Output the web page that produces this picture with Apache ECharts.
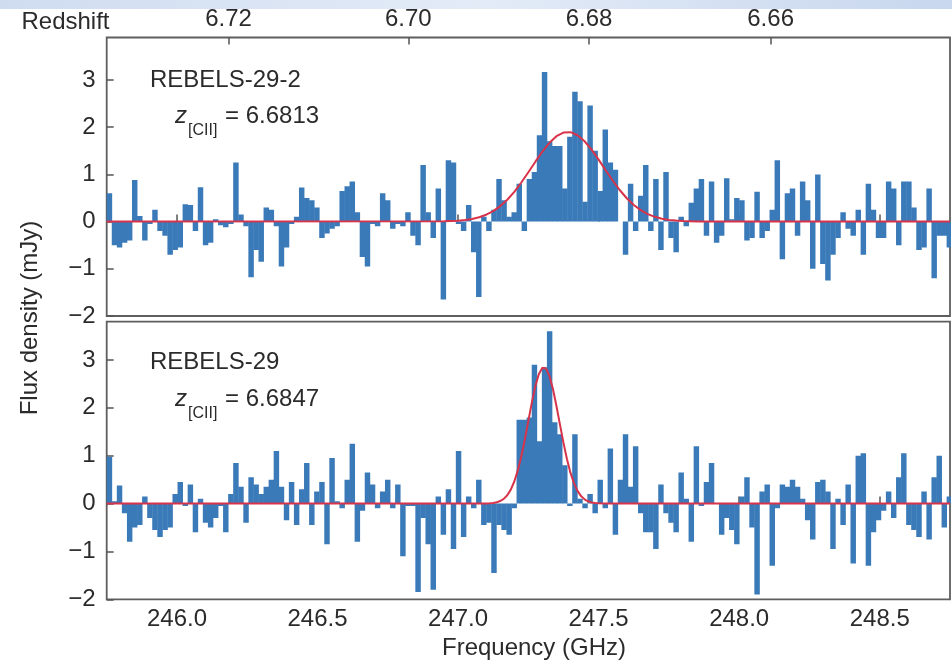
<!DOCTYPE html>
<html>
<head>
<meta charset="utf-8">
<script src="https://cdn.jsdelivr.net/npm/echarts@6/dist/echarts.min.js"></script>
<style>
  html, body { margin: 0; padding: 0; background: #ffffff; }
  #chart { width: 952px; height: 667px; }
</style>
</head>
<body>
<div id="chart"></div>
<script>
// ---------------- data ----------------
const freqMin = 245.75;
const freqMax = 248.75;
const chanStart = 245.759;   // centre of first channel (GHz)
const chanWidth = 0.018;     // channel width (GHz)
const restFreqCII = 1900.537; // [CII] rest frequency (GHz)

const freqTicks = [246.0, 246.5, 247.0, 247.5, 248.0, 248.5];
const fluxTicks = [-2, -1, 0, 1, 2, 3];
const redshiftTicks = [6.72, 6.70, 6.68, 6.66];

// REBELS-29-2 spectrum (mJy), one value per channel
const flux29_2 = [
  0.6, -0.5, -0.55, -0.45, -0.4, 0.88, 0.12, -0.4, -0.05, 0.25,
  -0.2, -0.3, -0.7, -0.6, -0.55, 0.37, 0.35, -0.2, 0.73, -0.5,
  -0.45, 0.05, -0.08, -0.12, -0.05, 1.25, 0.15, -0.1, -1.18, -0.6,
  -0.85, 0.3, 0.25, -0.1, -0.95, -0.55, -0.05, 0.1, 0.72, 0.5,
  0.45, 0.3, -0.35, -0.25, -0.15, -0.1, 0.65, 0.75, 0.85, 0.2,
  -0.75, -0.95, -0.05, -0.1, 0.6, 0.45, -0.15, -0.05, -0.1, 0.2,
  -0.3, -0.5, 1.2, 0.2, -0.35, 0.7, -1.65, 1.3, 1.25, -0.05,
  -0.2, 0.35, -0.65, -1.6, 0.1, -0.2, 0.25, 0.9, 0.45, 0.1,
  0.2, 0.8, -0.2, 0.9, 1.05, 1.83, 3.17, 1.7, 1.6, 1.6,
  0.7, 1.8, 2.75, 2.55, 0.42, 2.46, 1.5, 0.65, 1.95, 1.25,
  1.1, 0.0, -0.7, 0.8, -0.2, 0.55, 1.2, -0.2, 0.9, -0.6,
  1.05, -0.35, -0.65, 0.1, -0.1, 0.4, 0.7, 0.9, -0.3, 0.85,
  -0.45, -0.3, 0.92, 0.05, 0.5, 0.45, -0.4, -0.35, 0.63, -0.35,
  -0.2, 0.25, 1.3, -0.8, 0.6, 0.7, -0.3, 0.85, 0.45, -1.0,
  1.0, -0.9, -1.25, -0.7, -0.35, 0.2, -0.15, -0.3, 0.25, -0.7,
  0.8, 0.25, -0.35, -0.35, 0.85, 0.7, -0.5, 0.85, 0.85, 0.3,
  -0.6, -0.55, 0.7, -1.2, -0.3, -0.3, -0.55
];

// REBELS-29 spectrum (mJy)
const flux29 = [
  0.98, 0.05, 0.38, -0.2, -0.8, -0.5, -0.45, 0.15, -0.3, -0.55,
  -0.7, -0.55, -0.5, 0.2, 0.45, -0.05, 0.4, -0.6, 0.1, -0.4,
  -0.5, -0.3, -0.05, -0.6, 0.2, 0.85, 0.35, -0.4, 0.55, 0.4,
  0.2, 0.35, 0.5, 1.1, 0.35, -0.35, 0.45, -0.45, 0.3, 0.85,
  -0.45, 0.25, 0.45, -0.85, 0.95, 0.05, -0.1, 0.5, 1.25, -0.8,
  -0.15, 0.65, 0.4, -0.1, 0.25, 0.5, -0.1, 0.4, -1.1, -0.05,
  -0.05, -1.85, -0.3, -0.85, -1.8, 0.15, -0.65, 0.3, -0.95, 1.1,
  -0.7, 0.15, -0.1, 0.5, -0.45, -0.4, -1.45, -0.45, -0.55, -0.65,
  -0.1, 1.75, 1.75, 1.8, 2.9, 1.3, 2.85, 3.6, 1.7, 1.45,
  0.8, -0.05, 1.45, 0.1, -0.1, 0.2, -0.2, 0.5, -0.1, 1.15,
  -0.65, 0.5, 1.45, 0.35, 1.2, -0.2, -0.6, -0.6, -0.95, 0.4,
  -0.2, -0.4, -0.6, 0.65, 0.1, -0.8, 1.2, -0.05, 0.45, 0.85,
  0.0, -0.65, -0.3, -0.55, -0.85, 0.15, 0.55, -0.5, -1.9, 0.25,
  0.4, -1.3, -0.1, 0.4, 0.35, 0.5, 0.35, 0.1, -0.35, -0.75,
  0.45, 0.5, 0.25, -0.95, 0.1, -0.45, 0.4, -1.25, 1.0, 1.05,
  -1.3, -0.6, -0.35, -0.15, 0.25, -0.3, 0.55, 1.05, -0.45, -0.55,
  -0.7, 0.25, -0.75, 0.55, 1.0, -0.5, 0.15
];

// Fitted line profiles
const fitFreq29_2 = [245.75, 246.95, 247.0, 247.025, 247.05, 247.075, 247.1, 247.125, 247.15, 247.175,
  247.2, 247.225, 247.25, 247.275, 247.3, 247.325, 247.35, 247.375, 247.4, 247.425,
  247.45, 247.475, 247.5, 247.525, 247.55, 247.575, 247.6, 247.625, 247.65, 247.675,
  247.7, 247.725, 247.75, 247.775, 247.8, 247.85, 248.75];
const fitFlux29_2 = [0, 0.005, 0.018, 0.033, 0.056, 0.092, 0.146, 0.223, 0.328, 0.463,
  0.631, 0.828, 1.045, 1.269, 1.484, 1.67, 1.809, 1.887, 1.894, 1.83,
  1.702, 1.524, 1.313, 1.089, 0.87, 0.669, 0.495, 0.352, 0.242, 0.159,
  0.101, 0.062, 0.036, 0.021, 0.011, 0.003, 0];

const fitFreq29 = [245.75, 247.075, 247.1, 247.1125, 247.125, 247.1375, 247.15, 247.1625, 247.175, 247.1875,
  247.2, 247.2125, 247.225, 247.2375, 247.25, 247.2625, 247.275, 247.2875, 247.3, 247.3125,
  247.325, 247.3375, 247.35, 247.3625, 247.375, 247.3875, 247.4, 247.4125, 247.425, 247.4375,
  247.45, 247.4625, 247.475, 247.4875, 247.5, 247.525, 248.75];
const fitFlux29 = [0, 0, 0.003, 0.006, 0.013, 0.028, 0.054, 0.099, 0.175, 0.291,
  0.461, 0.693, 0.99, 1.342, 1.729, 2.114, 2.456, 2.709, 2.838, 2.824,
  2.668, 2.393, 2.039, 1.65, 1.268, 0.925, 0.641, 0.422, 0.264, 0.157,
  0.088, 0.047, 0.024, 0.012, 0.005, 0, 0];

// ---------------- chart ----------------
const barColor = '#3a7ab8';
const fitColor = '#d7334a';
const textColor = '#2b2b2b';
const frameColor = '#5e5e5e';
const FONT = 'Liberation Sans, Arial, Helvetica, sans-serif';

const toPairs = (xs, ys) => xs.map((x, i) => [x, ys[i]]);
const chanPairs = (vals) => vals.map((v, i) => [chanStart + i * chanWidth, v]);
const minusFmt = (v) => (v < 0 ? '\u2212' + Math.abs(v) : String(v));

function renderBars(params, api) {
  const f = api.value(0), v = api.value(1);
  const p0 = api.coord([f - chanWidth / 2, 0]);
  const p1 = api.coord([f + chanWidth / 2, v]);
  return {
    type: 'rect',
    shape: {
      x: p0[0],
      y: Math.min(p0[1], p1[1]),
      width: p1[0] - p0[0] + 0.4,
      height: Math.abs(p1[1] - p0[1])
    },
    style: { fill: barColor }
  };
}

const tickStyle = { show: true, inside: true, length: 7, lineStyle: { color: '#555', width: 1.5 } };
const labelStyle = { color: textColor, fontSize: 24, fontFamily: FONT };

function freqAxis(gridIndex, showLabels) {
  return {
    type: 'value', gridIndex, min: freqMin, max: freqMax, position: 'bottom',
    axisLine: { show: false },
    splitLine: { show: false },
    axisTick: Object.assign({}, tickStyle, { customValues: freqTicks }),
    axisLabel: Object.assign({}, labelStyle, {
      show: showLabels, margin: 8, customValues: freqTicks,
      formatter: (v) => v.toFixed(1)
    })
  };
}

function fluxAxis(gridIndex, maxVal) {
  return {
    type: 'value', gridIndex, min: -2, max: maxVal,
    axisLine: { show: false },
    splitLine: { show: false },
    axisTick: Object.assign({}, tickStyle, { customValues: fluxTicks }),
    axisLabel: Object.assign({}, labelStyle, { margin: 11, customValues: fluxTicks, formatter: minusFmt })
  };
}

const redshiftFreqs = redshiftTicks.map((z) => restFreqCII / (1 + z));

const option = {
  backgroundColor: '#ffffff',
  animation: false,
  grid: [
    { left: 106.7, right: 2, top: 37.5, height: 278.5, show: true, borderColor: frameColor, borderWidth: 1.8, backgroundColor: '#ffffff' },
    { left: 106.7, right: 2, top: 321.7, height: 277.6, show: true, borderColor: frameColor, borderWidth: 1.8, backgroundColor: '#ffffff' }
  ],
  xAxis: [
    freqAxis(0, false),
    freqAxis(1, true),
    {
      type: 'value', gridIndex: 0, min: freqMin, max: freqMax, position: 'top',
      axisLine: { show: false },
      splitLine: { show: false },
      axisTick: Object.assign({}, tickStyle, { customValues: redshiftFreqs }),
      axisLabel: Object.assign({}, labelStyle, {
        margin: 6, customValues: redshiftFreqs,
        formatter: (v) => (restFreqCII / v - 1).toFixed(2)
      })
    }
  ],
  yAxis: [fluxAxis(0, 3.9), fluxAxis(1, 3.8)],
  series: [
    { type: 'custom', name: 'REBELS-29-2', xAxisIndex: 0, yAxisIndex: 0, clip: true,
      renderItem: renderBars, encode: { x: 0, y: 1 }, data: chanPairs(flux29_2), z: 2 },
    { type: 'line', name: 'fit 29-2', xAxisIndex: 0, yAxisIndex: 0, showSymbol: false, symbol: 'none',
      data: toPairs(fitFreq29_2, fitFlux29_2), lineStyle: { color: fitColor, width: 2 }, z: 3 },
    { type: 'custom', name: 'REBELS-29', xAxisIndex: 1, yAxisIndex: 1, clip: true,
      renderItem: renderBars, encode: { x: 0, y: 1 }, data: chanPairs(flux29), z: 2 },
    { type: 'line', name: 'fit 29', xAxisIndex: 1, yAxisIndex: 1, showSymbol: false, symbol: 'none',
      data: toPairs(fitFreq29, fitFlux29), lineStyle: { color: fitColor, width: 2 }, z: 3 }
  ],
  graphic: [
    { type: 'rect', shape: { x: 0, y: 0, width: 952, height: 9 }, z: -10,
      style: { fill: new echarts.graphic.LinearGradient(0, 0, 1, 0, [
        { offset: 0, color: '#cfdcf0' }, { offset: 0.5, color: '#e3ebf7' }, { offset: 1, color: '#c8d7ee' }]) } },
    { type: 'text', x: 65.5, y: 22, z: 10,
      style: { text: 'Redshift', font: '24px ' + FONT, fill: textColor, align: 'center', verticalAlign: 'middle' } },
    { type: 'text', x: 30, y: 318, rotation: Math.PI / 2, z: 10,
      style: { text: 'Flux density (mJy)', font: '24px ' + FONT, fill: textColor, align: 'center', verticalAlign: 'middle' } },
    { type: 'text', x: 534, y: 648, z: 10,
      style: { text: 'Frequency (GHz)', font: '24px ' + FONT, fill: textColor, align: 'center', verticalAlign: 'middle' } },
    // top panel annotation
    { type: 'text', x: 150, y: 80, z: 10,
      style: { text: 'REBELS-29-2', font: '24px ' + FONT, fill: textColor, align: 'left', verticalAlign: 'middle' } },
    { type: 'text', x: 175, y: 116.5, z: 10,
      style: { text: 'z', font: 'italic 24px ' + FONT, fill: textColor, align: 'left', verticalAlign: 'middle' } },
    { type: 'text', x: 188, y: 131, z: 10,
      style: { text: '[CII]', font: '16px ' + FONT, fill: textColor, align: 'left', verticalAlign: 'middle' } },
    { type: 'text', x: 225, y: 116.5, z: 10,
      style: { text: '= 6.6813', font: '24px ' + FONT, fill: textColor, align: 'left', verticalAlign: 'middle' } },
    // bottom panel annotation
    { type: 'text', x: 150, y: 362.5, z: 10,
      style: { text: 'REBELS-29', font: '24px ' + FONT, fill: textColor, align: 'left', verticalAlign: 'middle' } },
    { type: 'text', x: 175, y: 399.5, z: 10,
      style: { text: 'z', font: 'italic 24px ' + FONT, fill: textColor, align: 'left', verticalAlign: 'middle' } },
    { type: 'text', x: 188, y: 414, z: 10,
      style: { text: '[CII]', font: '16px ' + FONT, fill: textColor, align: 'left', verticalAlign: 'middle' } },
    { type: 'text', x: 225, y: 399.5, z: 10,
      style: { text: '= 6.6847', font: '24px ' + FONT, fill: textColor, align: 'left', verticalAlign: 'middle' } }
  ]
};

const chart = echarts.init(document.getElementById('chart'), null, { renderer: 'canvas' });
chart.setOption(option);
</script>
</body>
</html>
